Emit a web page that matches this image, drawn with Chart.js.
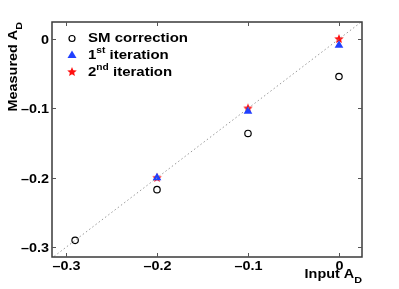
<!DOCTYPE html>
<html>
<head>
<meta charset="utf-8">
<script src="https://cdn.jsdelivr.net/npm/chart.js@4"></script>
<style>
  html, body { margin: 0; padding: 0; background: #fff; }
  #wrap { width: 399px; height: 289px; }
</style>
</head>
<body>
<div id="wrap"><canvas id="plot" width="399" height="289"></canvas></div>
<script>
// values
const inputAD = [-0.29, -0.2, -0.1, 0];
const smCorrection = [-0.29, -0.217, -0.136, -0.054];
const iter1X = [-0.2, -0.1, 0];
const iter1 = [-0.2, -0.104, -0.009];
const iter2X = [-0.2, -0.1, 0];
const iter2 = [-0.2, -0.1, 0];
const diagonal = [-0.32, 0.03];
const tickValues = [-0.3, -0.2, -0.1, 0];

const FONT = 'Liberation Sans, Arial, sans-serif';
const frameColor = '#3a3a3a';
const SX = 1.2; // the original text looks stretched sideways

function starCanvas(r, color) {
  const c = document.createElement('canvas');
  c.width = c.height = r * 2 + 2;
  const g = c.getContext('2d');
  g.fillStyle = color;
  g.beginPath();
  for (let i = 0; i < 10; i++) {
    let rad = i % 2 === 0 ? r : r * 0.45;
    let a = -Math.PI / 2 + i * Math.PI / 5;
    let x = r + 1 + rad * Math.cos(a), y = r + 1 + rad * Math.sin(a);
    if (i === 0) g.moveTo(x, y); else g.lineTo(x, y);
  }
  g.closePath();
  g.fill();
  return c;
}
const star = starCanvas(5, '#ff1010');

function fmt(v) {
  if (Math.abs(v) < 1e-9) return '0';
  return (v < 0 ? '\u2013' : '') + Math.abs(v).toFixed(1);
}

function onlyTicks(scale) {
  scale.ticks = tickValues.map(v => ({ value: v }));
}

// write a run of [text, size, dy] pieces, stretched by SX; align: 'left' | 'right' | 'center'
function runWidth(ctx, parts) {
  let w = 0;
  parts.forEach(p => { ctx.font = 'bold ' + p[1] + 'px ' + FONT; w += ctx.measureText(p[0]).width; });
  return w * SX;
}
function drawRun(ctx, parts, x, y, align) {
  const w = runWidth(ctx, parts);
  let x0 = align === 'right' ? x - w : align === 'center' ? x - w / 2 : x;
  ctx.save();
  ctx.translate(x0, y);
  ctx.scale(SX, 1);
  let cx = 0;
  parts.forEach(p => {
    ctx.font = 'bold ' + p[1] + 'px ' + FONT;
    ctx.fillText(p[0], cx, p[2] || 0);
    cx += ctx.measureText(p[0]).width;
  });
  ctx.restore();
}

// frame, inward ticks, tick labels, legend and axis titles
const decor = {
  id: 'decor',
  afterDatasetsDraw(chart) {
    const ctx = chart.ctx, a = chart.chartArea;
    const xs = chart.scales.x, ys = chart.scales.y;
    ctx.save();
    ctx.strokeStyle = frameColor;
    ctx.lineWidth = 1.5;
    ctx.strokeRect(a.left, a.top, a.right - a.left, a.bottom - a.top);
    ctx.lineWidth = 1;
    ctx.strokeStyle = '#555';
    ctx.fillStyle = '#000';
    ctx.textBaseline = 'alphabetic';
    tickValues.forEach(v => {
      const px = Math.round(xs.getPixelForValue(v)) + 0.5;
      ctx.beginPath();
      ctx.moveTo(px, a.bottom); ctx.lineTo(px, a.bottom - 4);
      ctx.moveTo(px, a.top); ctx.lineTo(px, a.top + 4);
      ctx.stroke();
      drawRun(ctx, [[fmt(v), 12]], px, a.bottom + 13, 'center');
      const py = Math.round(ys.getPixelForValue(v)) + 0.5;
      ctx.beginPath();
      ctx.moveTo(a.left, py); ctx.lineTo(a.left + 4, py);
      ctx.moveTo(a.right, py); ctx.lineTo(a.right - 4, py);
      ctx.stroke();
      drawRun(ctx, [[fmt(v), 12]], a.left - 3, py + 4.5, 'right');
    });

    // legend
    const lx = 72, tx = 88;
    ctx.strokeStyle = '#000';
    ctx.lineWidth = 1.2;
    ctx.beginPath(); ctx.arc(lx, 38.5, 3, 0, Math.PI * 2); ctx.stroke();
    ctx.fillStyle = '#2040ff';
    ctx.beginPath(); ctx.moveTo(lx, 50.5); ctx.lineTo(lx + 4.5, 58); ctx.lineTo(lx - 4.5, 58); ctx.closePath(); ctx.fill();
    ctx.drawImage(star, lx - 6, 66);
    ctx.fillStyle = '#000';
    drawRun(ctx, [['SM correction', 12.5]], tx, 42, 'left');
    drawRun(ctx, [['1', 12.5], ['st', 8.5, -6], [' iteration', 12.5]], tx, 58.5, 'left');
    drawRun(ctx, [['2', 12.5], ['nd', 8.5, -6], [' iteration', 12.5]], tx, 75.5, 'left');

    // x title, right aligned to the frame
    drawRun(ctx, [['Input A', 12], ['D', 9, 5]], a.right, 278, 'right');

    // y title, rotated, aligned with the top of the frame
    ctx.translate(17, a.top);
    ctx.rotate(-Math.PI / 2);
    drawRun(ctx, [['Measured A', 12], ['D', 9, 5]], 0, 0, 'right');
    ctx.restore();
  }
};

const data = {
  datasets: [
    {
      label: 'diagonal',
      type: 'line',
      data: diagonal.map(v => ({ x: v, y: v })),
      borderColor: '#999',
      borderWidth: 1,
      borderDash: [1.5, 2.5],
      pointRadius: 0,
      fill: false
    },
    {
      label: 'SM correction',
      data: inputAD.map((x, i) => ({ x: x, y: smCorrection[i] })),
      pointStyle: 'circle',
      pointRadius: 3.2,
      borderColor: '#000',
      borderWidth: 1.2,
      backgroundColor: 'rgba(0,0,0,0)'
    },
    {
      label: '1st iteration',
      data: iter1X.map((x, i) => ({ x: x, y: iter1[i] })),
      pointStyle: 'triangle',
      pointRadius: 5,
      borderWidth: 0,
      borderColor: '#2040ff',
      backgroundColor: '#2040ff'
    },
    {
      label: '2nd iteration',
      data: iter2X.map((x, i) => ({ x: x, y: iter2[i] })),
      pointStyle: star,
      pointRadius: 5
    }
  ]
};

const config = {
  type: 'scatter',
  data: data,
  options: {
    responsive: false,
    animation: false,
    layout: { padding: { left: 0, right: 37, top: 22, bottom: 0 } },
    plugins: {
      legend: { display: false },
      tooltip: { enabled: false }
    },
    scales: {
      x: {
        type: 'linear',
        min: -0.3154,
        max: 0.0253,
        afterBuildTicks: onlyTicks,
        afterFit(scale) { scale.height = 32; },
        grid: { display: false, drawTicks: false },
        border: { display: false },
        ticks: { display: false }
      },
      y: {
        type: 'linear',
        min: -0.314,
        max: 0.0245,
        afterBuildTicks: onlyTicks,
        afterFit(scale) { scale.width = 52; },
        grid: { display: false, drawTicks: false },
        border: { display: false },
        ticks: { display: false }
      }
    }
  },
  plugins: [decor]
};

const myChart = new Chart(document.getElementById('plot'), config);
</script>
</body>
</html>
